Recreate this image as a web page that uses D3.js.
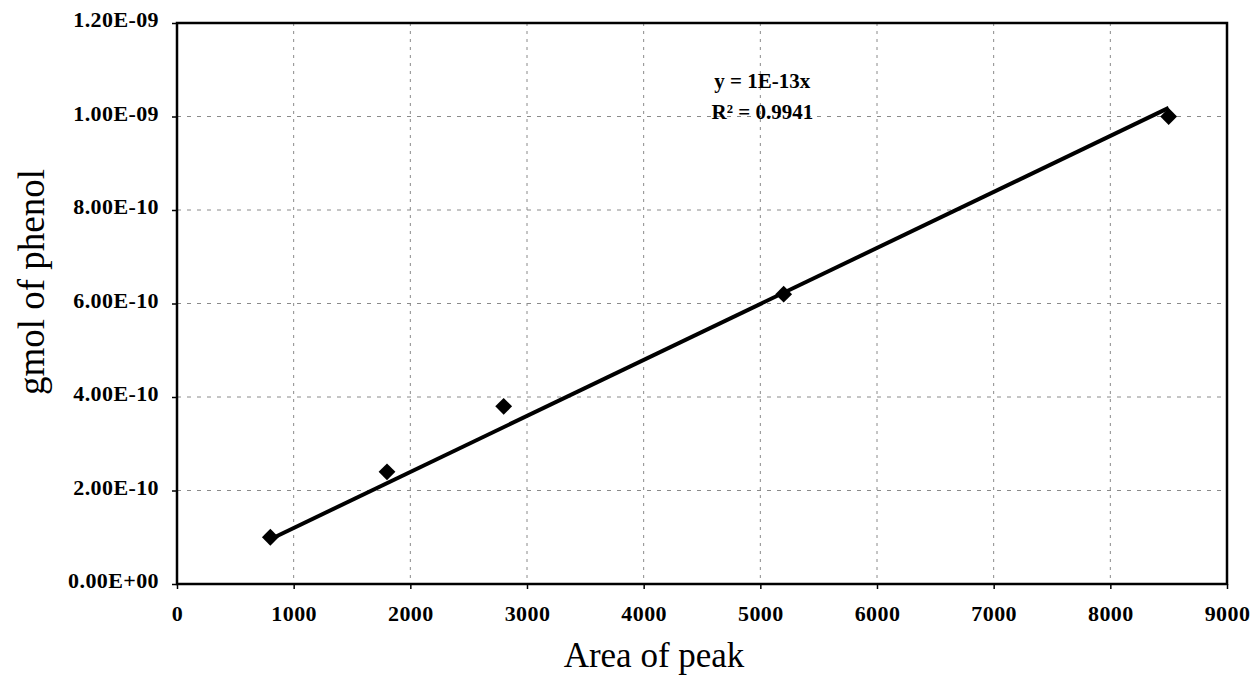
<!DOCTYPE html>
<html>
<head>
<meta charset="utf-8">
<script src="https://cdn.jsdelivr.net/npm/d3@7"></script>
<style>
  body { margin: 0; background: #fff; }
  svg { display: block; }
  text { font-family: "Liberation Serif", "Times New Roman", serif; }
</style>
</head>
<body>
<svg id="chart" width="1256" height="681"></svg>
<script>
// ---- data ----
const areaOfPeak = [800, 1800, 2800, 5200, 8500];
const gmolPhenol = [1.0e-10, 2.4e-10, 3.8e-10, 6.2e-10, 1.0e-09];
const xTicks = [0, 1000, 2000, 3000, 4000, 5000, 6000, 7000, 8000, 9000];
const yTicks = [0, 2e-10, 4e-10, 6e-10, 8e-10, 1e-9, 1.2e-9];
const yTickLabels = ["0.00E+00", "2.00E-10", "4.00E-10", "6.00E-10", "8.00E-10", "1.00E-09", "1.20E-09"];
const equationLines = ["y = 1E-13x", "R² = 0.9941"];
const xTitle = "Area of peak";
const yTitle = "gmol of phenol";

// ---- layout ----
const W = 1256, H = 681;
const m = { left: 177, top: 23, right: W - 1227, bottom: H - 584 };
const pw = W - m.left - m.right, ph = H - m.top - m.bottom;

const svg = d3.select("#chart");
const g = svg.append("g").attr("transform", `translate(${m.left},${m.top})`);

const x = d3.scaleLinear().domain([0, 9000]).range([0, pw]);
const y = d3.scaleLinear().domain([0, 1.2e-9]).range([ph, 0]);

// gridlines
g.append("g").selectAll("line").data(xTicks.slice(1, -1)).join("line")
  .attr("x1", d => x(d)).attr("x2", d => x(d)).attr("y1", 0).attr("y2", ph)
  .attr("stroke", "#8a8a8a").attr("stroke-width", 1).attr("stroke-dasharray", "3,5");
g.append("g").selectAll("line").data(yTicks.slice(1, -1)).join("line")
  .attr("y1", d => y(d)).attr("y2", d => y(d)).attr("x1", 0).attr("x2", pw)
  .attr("stroke", "#8a8a8a").attr("stroke-width", 1).attr("stroke-dasharray", "4,6");

// axes
const xAxis = d3.axisBottom(x).tickValues(xTicks).tickSize(5).tickPadding(16).tickFormat(d3.format("d"));
const yAxis = d3.axisLeft(y).tickValues(yTicks).tickSize(5).tickPadding(13)
  .tickFormat((d, i) => yTickLabels[i]);

const gx = g.append("g").attr("transform", `translate(0,${ph})`).call(xAxis);
const gy = g.append("g").call(yAxis);
[gx, gy].forEach(a => {
  a.select(".domain").remove();
  a.selectAll(".tick line").attr("stroke", "#000").attr("stroke-width", 1.5);
  a.selectAll(".tick text")
    .attr("fill", "#000").style("font-size", "22px").style("font-weight", "bold")
    .style("letter-spacing", "0.4px")
    .style("font-family", "'Liberation Serif', serif");
});
gy.selectAll(".tick text").attr("dy", "0.18em");
gx.selectAll(".tick text").attr("dy", "0.71em");

// plot frame
g.append("rect").attr("x", 0).attr("y", 0).attr("width", pw).attr("height", ph)
  .attr("fill", "none").attr("stroke", "#000").attr("stroke-width", 2.5);

// trendline through origin (least squares, zero intercept)
const sxy = d3.sum(areaOfPeak, (v, i) => v * gmolPhenol[i]);
const sxx = d3.sum(areaOfPeak, v => v * v);
const slope = sxy / sxx;
const xr = d3.extent(areaOfPeak);
g.append("line")
  .attr("x1", x(xr[0])).attr("y1", y(slope * xr[0]))
  .attr("x2", x(xr[1])).attr("y2", y(slope * xr[1]))
  .attr("stroke", "#000").attr("stroke-width", 4);

// markers
const pts = areaOfPeak.map((v, i) => [v, gmolPhenol[i]]);
g.selectAll("path.pt").data(pts).join("path")
  .attr("class", "pt")
  .attr("d", d3.symbol(d3.symbolDiamond2, 180)())
  .attr("transform", d => `translate(${x(d[0])},${y(d[1])})`)
  .attr("fill", "#000");

// equation
g.append("g").selectAll("text").data(equationLines).join("text")
  .attr("x", x(5000) + 2).attr("y", (d, i) => 65 + i * 31)
  .attr("text-anchor", "middle")
  .style("font-size", "21px").style("font-weight", "bold")
  .text(d => d);

// axis titles
svg.append("text").attr("x", m.left + pw / 2 - 48).attr("y", 667)
  .attr("text-anchor", "middle").style("font-size", "35px").text(xTitle);
svg.append("text").attr("transform", `translate(44,282) rotate(-90)`)
  .attr("text-anchor", "middle").style("font-size", "37px").text(yTitle);
</script>
</body>
</html>
